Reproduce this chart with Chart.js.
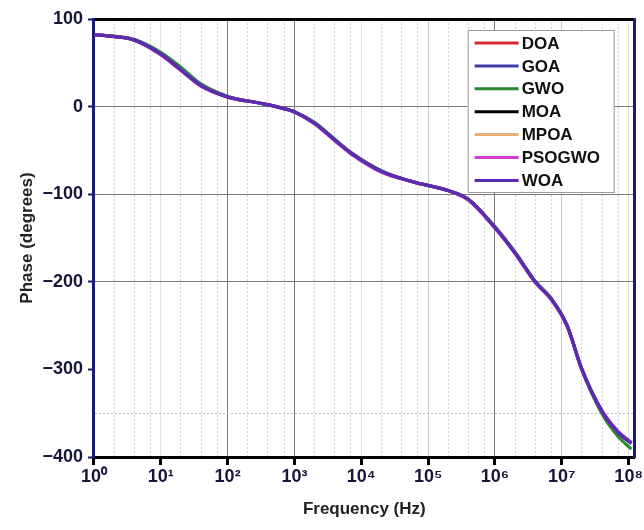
<!DOCTYPE html>
<html>
<head>
<meta charset="utf-8">
<script src="https://cdn.jsdelivr.net/npm/chart.js@4.4.1/dist/chart.umd.min.js"></script>
<style>
  html, body { margin: 0; padding: 0; background: #fff; }
  #wrap { width: 644px; height: 530px; }
</style>
</head>
<body>
<div id="wrap"><canvas id="phaseChart" width="644" height="530"></canvas></div>
<script>
// frequency points (Hz) shared by every curve
const freq = [1, 2, 4, 10, 20, 40, 100, 300, 600, 1e3, 2e3, 4e3, 7e3, 2e4, 6e4, 2e5, 4e5, 1e6, 2e6, 4e6, 7e6, 1.2e7, 2e7, 4e7, 7e7, 1.1e8];

// phase (degrees) per algorithm
const doa    = [82, 80, 76, 60, 42, 24, 11, 4, -1, -6, -19, -38, -53, -74, -86, -96, -106, -138, -167, -200, -220, -250, -300, -348, -372, -384];
const goa    = [82, 80, 76, 60, 42, 24, 11, 4, -1, -6, -19, -38, -53, -74, -86, -96, -106, -138, -167, -200, -220, -250, -300, -348, -373, -385];
const gwo    = [82, 80.5, 77, 62, 45, 26, 12, 4, -1, -6, -18, -37, -52, -73, -86, -96, -106, -137, -166, -199, -219, -250, -301, -351, -377, -391];
const moa    = [82, 80, 76, 60, 42, 24, 11, 4, -1, -6, -19, -38, -53, -74, -86, -96, -106, -138, -167, -200, -220, -250, -300, -348, -372, -384];
const mpoa   = [82, 80, 76, 60, 42, 24, 11, 4, -1, -6, -19, -38, -53, -74, -86, -96, -106, -138, -167, -200, -220, -250, -300, -348, -372, -384];
const psogwo = [82, 80, 76, 59, 41, 23, 11, 4, -1, -6, -20, -39, -54, -75, -86, -96, -107, -139, -168, -201, -221, -251, -301, -347, -371, -383];
const woa    = [82, 80, 76, 60, 42, 24, 11, 4, -1, -6, -19, -38, -53, -74, -86, -96, -106, -138, -167, -200, -220, -250, -300, -348, -372, -384];

const seriesNames = ['DOA', 'GOA', 'GWO', 'MOA', 'MPOA', 'PSOGWO', 'WOA'];
const seriesData = [doa, goa, gwo, moa, mpoa, psogwo, woa];
const seriesColors = ['#d42c2c', '#3c3ca8', '#2a8a34', '#000000', '#e8b074', '#d23cd2', '#5b2bb0'];

// axis ticks
const xTicks = [1, 10, 100, 1e3, 1e4, 1e5, 1e6, 1e7, 1e8];
const xTickLabels = ['10⁰', '10¹', '10²', '10³', '10⁴', '10⁵', '10⁶', '10⁷', '10⁸'];
const xMinorSteps = [2, 4, 7];
const yTicks = [-400, -300, -200, -100, 0, 100];
const yDotted = -350;
const ySolidGrid = [0, -100, -200];

const NAVY = '#1a1a78';
const LABEL = '#16163a';
const FONT = "'Liberation Sans', Arial, sans-serif";

const isDecade = v => xTicks.includes(v);

// darker decade lines only where the reference shows them
function decadeColor(v) {
    if (v === 100 || v === 1e3 || v === 1e6) return '#7a7a7a';
    if (v === 1e5 || v === 1e7) return '#c8c8c8';
    return '#e2e2e2';
}

// legend drawn as a framed box inside the plot
const boxLegend = {
    id: 'boxLegend',
    afterDraw(chart) {
        const {ctx, chartArea} = chart;
        const rowH = 22.9;
        const x0 = chartArea.right - 167;
        const y0 = chartArea.top + 11;
        const w = 146;
        const h = 162;
        ctx.save();
        ctx.fillStyle = '#fff';
        ctx.fillRect(x0, y0, w, h);
        ctx.strokeStyle = '#9a9a9a';
        ctx.lineWidth = 1;
        ctx.strokeRect(x0 + 0.5, y0 + 0.5, w, h);
        ctx.font = 'bold 17px ' + FONT;
        ctx.textBaseline = 'middle';
        chart.data.datasets.forEach((ds, i) => {
            const y = y0 + 13 + i * rowH;
            ctx.strokeStyle = ds.borderColor;
            ctx.lineWidth = 3;
            ctx.beginPath();
            ctx.moveTo(x0 + 7, y);
            ctx.lineTo(x0 + 51, y);
            ctx.stroke();
            ctx.fillStyle = '#111';
            ctx.fillText(ds.label, x0 + 54, y + 1);
        });
        ctx.restore();
    }
};

const ctx = document.getElementById('phaseChart');
const phaseChart = new Chart(ctx, {
    type: 'line',
    data: {
        datasets: seriesNames.map((name, i) => ({
            label: name,
            data: freq.map((f, j) => ({x: f, y: seriesData[i][j]})),
            borderColor: seriesColors[i],
            backgroundColor: seriesColors[i],
            borderWidth: i === 6 ? 3.5 : 3,
            order: seriesNames.length - 1 - i,
            pointRadius: 0,
            cubicInterpolationMode: 'monotone',
            fill: false
        }))
    },
    plugins: [boxLegend],
    options: {
        responsive: false,
        animation: false,
        events: [],
        layout: {
            padding: {top: 19, right: -2, left: 17, bottom: 10}
        },
        scales: {
            x: {
                type: 'logarithmic',
                min: 1,
                max: 1.23e8,
                afterBuildTicks: s => {
                    const t = [];
                    xTicks.forEach((base, d) => {
                        t.push({value: base});
                        if (d < xTicks.length - 1) xMinorSteps.forEach(m => t.push({value: m * base}));
                    });
                    s.ticks = t;
                },
                ticks: {
                    autoSkip: false,
                    maxRotation: 0,
                    padding: 1,
                    color: LABEL,
                    font: {family: FONT, size: 18, weight: 'bold'},
                    callback: v => isDecade(v) ? xTickLabels[xTicks.indexOf(v)] : ''
                },
                grid: {
                    color: c => c.tick && isDecade(c.tick.value) ? decadeColor(c.tick.value) : '#d2d2d2',
                    lineWidth: 1,
                    tickLength: 8,
                    tickWidth: 3,
                    tickColor: c => c.tick && isDecade(c.tick.value) ? '#000' : 'rgba(0,0,0,0)'
                },
                border: {
                    color: '#000',
                    width: 3,
                    dash: c => c.tick && !isDecade(c.tick.value) ? [2, 2] : []
                },
                title: {
                    display: true,
                    text: 'Frequency (Hz)',
                    color: '#222',
                    font: {family: FONT, size: 17, weight: 'bold'},
                    padding: {top: 11, bottom: 0}
                }
            },
            x2: {
                type: 'logarithmic',
                position: 'top',
                min: 1,
                max: 1.23e8,
                ticks: {display: false, padding: 0},
                grid: {display: false, drawTicks: false},
                border: {color: '#000', width: 3}
            },
            y: {
                min: -400,
                max: 100,
                afterBuildTicks: s => {
                    s.ticks = yTicks.concat([yDotted]).sort((a, b) => a - b).map(v => ({value: v}));
                },
                ticks: {
                    color: LABEL,
                    padding: 5,
                    font: {family: FONT, size: 18, weight: 'bold'},
                    callback: v => v === yDotted ? '' : (v < 0 ? '−' + Math.abs(v) : String(v))
                },
                grid: {
                    color: c => {
                        if (!c.tick) return '#000';
                        if (c.tick.value === yDotted) return '#bdbdbd';
                        return ySolidGrid.includes(c.tick.value) ? '#7a7a7a' : 'rgba(0,0,0,0)';
                    },
                    lineWidth: 1,
                    tickLength: 6,
                    tickWidth: 2,
                    tickColor: c => c.tick && c.tick.value === yDotted ? 'rgba(0,0,0,0)' : NAVY
                },
                border: {
                    color: NAVY,
                    width: 3,
                    dash: c => c.tick && c.tick.value === yDotted ? [2, 2] : []
                },
                title: {
                    display: true,
                    text: 'Phase (degrees)',
                    color: '#222',
                    font: {family: FONT, size: 17, weight: 'bold'},
                    padding: {top: 0, bottom: 0}
                }
            },
            y2: {
                position: 'right',
                min: -400,
                max: 100,
                ticks: {display: false, padding: 0},
                grid: {display: false, drawTicks: false},
                border: {color: NAVY, width: 3}
            }
        },
        plugins: {
            legend: {display: false},
            tooltip: {enabled: false}
        }
    }
});
</script>
</body>
</html>
